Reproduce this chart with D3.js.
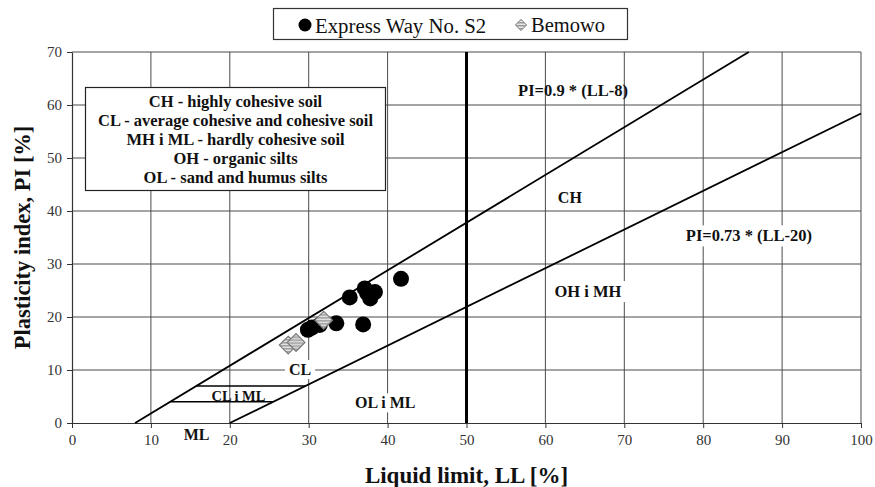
<!DOCTYPE html>
<html>
<head>
<meta charset="utf-8">
<script src="https://cdn.jsdelivr.net/npm/d3@7"></script>
<style>
  body { margin: 0; background: #fff; }
  text { font-family: "Liberation Serif", "Times New Roman", serif; }
</style>
</head>
<body>
<svg id="chart" width="875" height="487"></svg>
<script>
// Soil samples: liquid limit LL [%] and plasticity index PI [%]
const expressLL = [41.7, 37.1, 38.4, 37.8, 37.4, 35.2, 36.9, 33.5, 30.4, 31.4, 29.9];
const expressPI = [27.2, 25.4, 24.7, 23.5, 24.5, 23.7, 18.6, 18.8, 18.0, 18.5, 17.6];
const bemowoLL = [31.9, 27.4, 28.4];
const bemowoPI = [19.4, 14.7, 15.2];

const xTicks = [0, 10, 20, 30, 40, 50, 60, 70, 80, 90, 100];
const yTicks = [0, 10, 20, 30, 40, 50, 60, 70];

const seriesNames = ["Express Way No. S2", "Bemowo"];
const classNotes = [
  "CH - highly cohesive soil",
  "CL - average cohesive and cohesive soil",
  "MH i ML - hardly cohesive soil",
  "OH - organic silts",
  "OL - sand and humus silts"
];

// Casagrande chart boundaries
const uLine = { slope: 0.9, offset: 8, label: "PI=0.9 * (LL-8)" };
const aLine = { slope: 0.73, offset: 20, label: "PI=0.73 * (LL-20)" };
const zoneBands = [7, 4];          // PI levels of the CL-ML band
const liquidLimitDivide = 50;      // low / high plasticity divide

const SERIF = '"Liberation Serif", "Times New Roman", serif';
const svg = d3.select("#chart");
const W = 875, H = 487;
const m = { left: 72, right: 14, top: 52, bottom: 64 };

const x = d3.scaleLinear().domain([0, 100]).range([m.left, W - m.right]);
const y = d3.scaleLinear().domain([0, 70]).range([H - m.bottom, m.top]);

// stripes for the Bemowo diamonds
const defs = svg.append("defs");
const pat = defs.append("pattern")
  .attr("id", "stripes").attr("patternUnits", "userSpaceOnUse")
  .attr("width", 4).attr("height", 3);
pat.append("rect").attr("width", 4).attr("height", 3).attr("fill", "#e6e6e6");
pat.append("rect").attr("width", 4).attr("height", 1.5).attr("fill", "#9a9a9a");

// grid
const grid = svg.append("g");
grid.selectAll("line.v").data(xTicks.filter(d => d > 0)).join("line")
  .attr("x1", d => x(d)).attr("x2", d => x(d))
  .attr("y1", y(0)).attr("y2", y(70))
  .attr("stroke", "#4a4a4a").attr("stroke-width", 1);
grid.selectAll("line.h").data(yTicks.filter(d => d > 0)).join("line")
  .attr("x1", x(0)).attr("x2", x(100))
  .attr("y1", d => y(d)).attr("y2", d => y(d))
  .attr("stroke", "#4a4a4a").attr("stroke-width", 1);

// axes
const xAxis = svg.append("g").attr("transform", `translate(0,${y(0)})`)
  .call(d3.axisBottom(x).tickValues(xTicks).tickSize(5).tickPadding(6).tickSizeOuter(0));
const yAxis = svg.append("g").attr("transform", `translate(${x(0)},0)`)
  .call(d3.axisLeft(y).tickValues(yTicks).tickSize(5).tickPadding(5).tickSizeOuter(0));
[xAxis, yAxis].forEach(a => {
  a.attr("font-family", SERIF).attr("font-size", 15);
  a.select(".domain").attr("stroke", "#333").attr("stroke-width", 1.2);
  a.selectAll(".tick line").attr("stroke", "#333");
  a.selectAll(".tick text").attr("fill", "#333").attr("font-family", SERIF);
});

// zone labels (some with a white backing that hides the grid)
const labels = svg.append("g");
function zoneLabel(txt, ll, pi, size, backed) {
  const g = labels.append("g");
  const t = g.append("text").attr("x", x(ll)).attr("y", y(pi))
    .attr("text-anchor", "middle").attr("dominant-baseline", "central")
    .attr("font-family", SERIF)
    .attr("font-weight", "bold").attr("font-size", size + "px").attr("fill", "#111")
    .text(txt);
  if (backed) {
    const b = t.node().getBBox();
    g.insert("rect", "text").attr("x", b.x - 4).attr("y", b.y - 1)
      .attr("width", b.width + 8).attr("height", b.height + 2).attr("fill", "#fff");
  }
}

// boundary lines
const lineGen = d3.line().x(d => x(d[0])).y(d => y(d[1]));
const uEnd = 70 / uLine.slope + uLine.offset;
const piU = ll => uLine.slope * (ll - uLine.offset);
const piA = ll => aLine.slope * (ll - aLine.offset);
const llU = pi => pi / uLine.slope + uLine.offset;
const llA = pi => pi / aLine.slope + aLine.offset;

const boundaries = svg.append("g");

zoneLabel("CL", 28.9, 10.1, 16, true);
zoneLabel("OL i ML", 39.7, 3.8, 16, true);
zoneLabel("OH i MH", 65.4, 24.8, 16.5, true);
zoneLabel(aLine.label, 85.8, 35.3, 16.5, true);
zoneLabel(uLine.label, 63.5, 62.8, 16.5, false);
zoneLabel("CH", 63.1, 42.6, 16, false);
zoneLabel("CL i ML", 21.1, 5.1, 14.5, false);
zoneLabel("ML", 15.8, -2.2, 16, false);

boundaries.append("path").datum([[uLine.offset, piU(uLine.offset)], [uEnd, piU(uEnd)]])
  .attr("d", lineGen).attr("stroke", "#000").attr("stroke-width", 1.8).attr("fill", "none");
boundaries.append("path").datum([[aLine.offset, piA(aLine.offset)], [100, piA(100)]])
  .attr("d", lineGen).attr("stroke", "#000").attr("stroke-width", 1.8).attr("fill", "none");
boundaries.selectAll("path.band").data(zoneBands).join("path")
  .attr("d", pi => lineGen([[llU(pi), pi], [llA(pi), pi]]))
  .attr("stroke", "#000").attr("stroke-width", 1.5).attr("fill", "none");
boundaries.append("path").datum([[liquidLimitDivide, 0], [liquidLimitDivide, 70]])
  .attr("d", lineGen).attr("stroke", "#000").attr("stroke-width", 3).attr("fill", "none");

// points
const express = expressLL.map((ll, i) => [ll, expressPI[i]]);
const bemowo = bemowoLL.map((ll, i) => [ll, bemowoPI[i]]);
svg.append("g").selectAll("circle").data(express).join("circle")
  .attr("cx", d => x(d[0])).attr("cy", d => y(d[1])).attr("r", 8).attr("fill", "#000");
const diamond = d3.symbol().type(d3.symbolDiamond2).size(200);
svg.append("g").selectAll("path").data(bemowo).join("path")
  .attr("transform", d => `translate(${x(d[0])},${y(d[1])})`)
  .attr("d", diamond).attr("fill", "url(#stripes)").attr("stroke", "#7a7a7a").attr("stroke-width", 1.2);

// class notes box
const box = svg.append("g");
box.append("rect").attr("x", 85.5).attr("y", 87.5).attr("width", 300).attr("height", 103)
  .attr("fill", "#fff").attr("stroke", "#222").attr("stroke-width", 1.2);
box.selectAll("text").data(classNotes).join("text")
  .attr("x", 235.5).attr("y", (d, i) => 101 + i * 19.2)
  .attr("text-anchor", "middle").attr("dominant-baseline", "central")
  .attr("font-family", SERIF)
  .attr("font-weight", "bold").attr("font-size", "16.5px").attr("fill", "#111")
  .text(d => d);

// legend
const lg = svg.append("g");
lg.append("rect").attr("x", 273.5).attr("y", 8.5).attr("width", 354).attr("height", 31)
  .attr("fill", "#fff").attr("stroke", "#333").attr("stroke-width", 1.2);
lg.append("circle").attr("cx", 305).attr("cy", 25).attr("r", 6.5).attr("fill", "#000");
lg.append("text").attr("x", 315).attr("y", 25).attr("dominant-baseline", "central")
  .attr("font-family", SERIF)
  .attr("font-size", "20.8px").attr("fill", "#111").text(seriesNames[0]);
lg.append("path").attr("transform", "translate(521,25)")
  .attr("d", d3.symbol().type(d3.symbolDiamond2).size(80))
  .attr("fill", "url(#stripes)").attr("stroke", "#7a7a7a").attr("stroke-width", 1);
lg.append("text").attr("x", 531).attr("y", 25).attr("dominant-baseline", "central")
  .attr("font-family", SERIF)
  .attr("font-size", "20.5px").attr("fill", "#111").text(seriesNames[1]);

// axis titles
svg.append("text").attr("x", (x(0) + x(100)) / 2).attr("y", 475)
  .attr("text-anchor", "middle").attr("dominant-baseline", "central")
  .attr("font-family", SERIF)
  .attr("font-weight", "bold").attr("font-size", "23px").attr("fill", "#111")
  .text("Liquid limit, LL [%]");
svg.append("text")
  .attr("transform", `translate(22,${(y(0) + y(70)) / 2}) rotate(-90)`)
  .attr("text-anchor", "middle").attr("dominant-baseline", "central")
  .attr("font-family", SERIF)
  .attr("font-weight", "bold").attr("font-size", "22.5px").attr("fill", "#111")
  .text("Plasticity index, PI [%]");
</script>
</body>
</html>
